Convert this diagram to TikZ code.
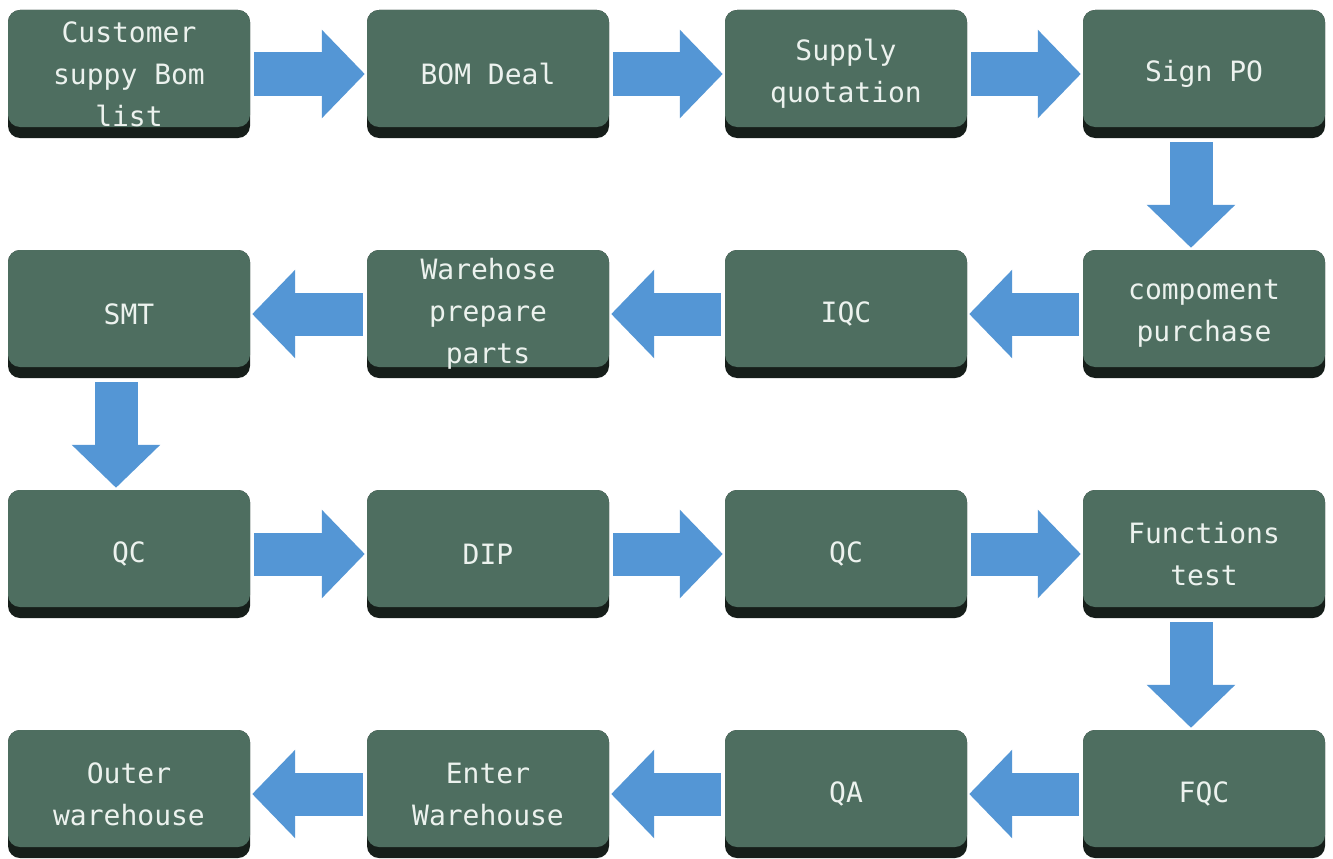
\documentclass[tikz,border=0pt]{standalone}
\usepackage{fontspec}
\setmonofont{DejaVu Sans Mono}
\usepackage{xcolor}
\usepackage{tikz}
\usetikzlibrary{arrows.meta}
\usetikzlibrary{positioning}

\definecolor{boxgreen}{RGB}{78,110,96}
\definecolor{boxlight}{RGB}{122,150,136}
\definecolor{boxdark}{RGB}{58,86,74}
\definecolor{boxshadow}{RGB}{22,30,26}
\definecolor{flowblue}{RGB}{84,150,213}
\definecolor{labelwhite}{RGB}{236,242,238}
\pgfdeclareverticalshading{boxbody}{100bp}{color(0bp)=(boxdark); color(10bp)=(boxgreen); color(85bp)=(boxgreen); color(100bp)=(boxlight)}

\tikzset{
	procbox/.style={rectangle, rounded corners=12pt, minimum width=242pt, minimum height=128pt, inner sep=0pt,
		fill=boxshadow, text=labelwhite, align=center, font=\ttfamily\fontsize{28}{42}\selectfont,
		path picture={\shade[shading=boxbody, rounded corners=12pt] (path picture bounding box.north west) rectangle ([yshift=11pt]path picture bounding box.south east);}},
	flow/.style={line width=43pt, flowblue, -{Triangle[length=43pt 0 0, width=86pt 0 0]}, shorten <=4pt, shorten >=2pt}
}

\begin{document}
\begin{tikzpicture}[x=1pt,y=-1pt]
	\useasboundingbox (0,0) rectangle (1333,859);
	\fill[white] (0,0) rectangle (1333,859);
	% first row
	\node[procbox] (bom) at (129,74) {Customer\\suppy Bom\\list};
	\node[procbox] (deal) at (488,74) {BOM Deal};
	\node[procbox] (quote) at (846,74) {Supply\\quotation};
	\node[procbox] (po) at (1204,74) {Sign PO};
	% second row
	\node[procbox] (smt) at (129,314) {SMT};
	\node[procbox] (prepare) at (488,314) {Warehose\\prepare\\parts};
	\node[procbox] (iqc) at (846,314) {IQC};
	\node[procbox] (purchase) at (1204,314) {compoment\\purchase};
	% third row
	\node[procbox] (qca) at (129,554) {QC};
	\node[procbox] (dip) at (488,554) {DIP};
	\node[procbox] (qcb) at (846,554) {QC};
	\node[procbox] (func) at (1204,554) {Functions\\test};
	% fourth row
	\node[procbox] (outer) at (129,794) {Outer\\warehouse};
	\node[procbox] (enter) at (488,794) {Enter\\Warehouse};
	\node[procbox] (qa) at (846,794) {QA};
	\node[procbox] (fqc) at (1204,794) {FQC};
	% flow
	\draw[flow] (bom.east) -- (deal.west);
	\draw[flow] (deal.east) -- (quote.west);
	\draw[flow] (quote.east) -- (po.west);
	\draw[flow] ([xshift=-13pt]po.south) -- ([xshift=-13pt]purchase.north);
	\draw[flow] (purchase.west) -- (iqc.east);
	\draw[flow] (iqc.west) -- (prepare.east);
	\draw[flow] (prepare.west) -- (smt.east);
	\draw[flow] ([xshift=-13pt]smt.south) -- ([xshift=-13pt]qca.north);
	\draw[flow] (qca.east) -- (dip.west);
	\draw[flow] (dip.east) -- (qcb.west);
	\draw[flow] (qcb.east) -- (func.west);
	\draw[flow] ([xshift=-13pt]func.south) -- ([xshift=-13pt]fqc.north);
	\draw[flow] (fqc.west) -- (qa.east);
	\draw[flow] (qa.west) -- (enter.east);
	\draw[flow] (enter.west) -- (outer.east);
\end{tikzpicture}
\end{document}
